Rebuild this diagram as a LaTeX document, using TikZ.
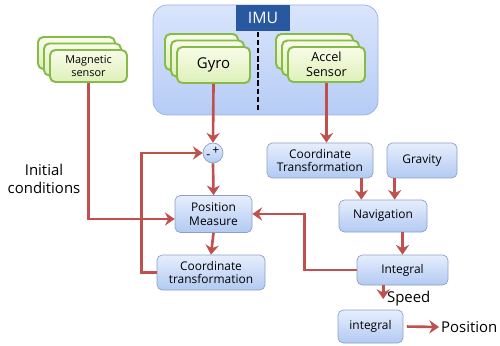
\documentclass[tikz,border=0pt]{standalone}
\usepackage{fontspec}
\setmainfont{Open Sans}
\usetikzlibrary{arrows.meta,positioning}
\definecolor{imured}{RGB}{192,80,77}
\definecolor{boxtop}{RGB}{230,238,253}
\definecolor{boxbot}{RGB}{178,202,242}
\definecolor{boxedge}{RGB}{140,160,200}
\definecolor{imutop}{RGB}{218,229,252}
\definecolor{imubot}{RGB}{182,204,245}
\definecolor{imuedge}{RGB}{150,178,228}
\definecolor{imudark}{RGB}{40,88,160}
\definecolor{senstop}{RGB}{248,252,232}
\definecolor{sensbot}{RGB}{222,240,185}
\definecolor{sensedge}{RGB}{135,185,75}
\tikzset{
  bluebox/.style={rectangle, rounded corners=3pt, draw=boxedge, top color=boxtop, bottom color=boxbot, align=center, inner sep=1pt, font=\fontsize{6.8}{7.8}\selectfont},
  sensor/.style={rectangle, rounded corners=3pt, draw=sensedge, line width=1.1pt, top color=senstop, bottom color=sensbot, align=center, inner sep=1pt},
  imubox/.style={rectangle, rounded corners=8pt, draw=imuedge, top color=imutop, bottom color=imubot},
  imulabel/.style={rectangle, fill=imudark, text=white, minimum width=1.08cm, minimum height=0.52cm, font=\fontsize{9}{10}\selectfont},
  sumnode/.style={circle, draw=boxedge, top color=boxtop, bottom color=boxbot, minimum size=0.4cm, inner sep=0pt, font=\fontsize{7}{8}\selectfont},
  arrow/.style={-{Stealth[length=5.5pt,width=7.5pt]}, line width=1.5pt, draw=imured},
  line/.style={line width=1.5pt, draw=imured},
  divider/.style={line width=1pt, dash pattern=on 3pt off 1.6pt},
  freetext/.style={align=center, inner sep=1pt, font=\fontsize{8.5}{10}\selectfont}
}
\begin{document}
\begin{tikzpicture}
\useasboundingbox (0,0) rectangle (10,6.9);
% IMU block
\node[imubox, minimum width=4.5cm, minimum height=2.2cm] (imu) at (5.31,5.7) {};
\node[imulabel] (imutag) at (5.26,6.54) {IMU};
\draw[divider] (5.16,6.26) -- (5.16,4.66);
% sensors, drawn as stacks
\foreach \k in {2,1} {
  \node[sensor, minimum width=1.46cm, minimum height=0.72cm] (gyro\k) at ({4.27-0.12*\k},{5.6+0.13*\k}) {};
  \node[sensor, minimum width=1.54cm, minimum height=0.7cm] (accel\k) at ({6.53-0.12*\k},{5.61+0.13*\k}) {};
  \node[sensor, minimum width=1.54cm, minimum height=0.64cm] (mag\k) at ({1.77-0.12*\k},{5.58+0.13*\k}) {};
}
\node[sensor, minimum width=1.46cm, minimum height=0.72cm, font=\fontsize{8.5}{10}\selectfont] (gyro) at (4.27,5.6) {Gyro};
\node[sensor, minimum width=1.54cm, minimum height=0.7cm, font=\fontsize{7.2}{8.4}\selectfont] (accel) at (6.53,5.61) {Accel\\Sensor};
\node[sensor, minimum width=1.54cm, minimum height=0.64cm, font=\fontsize{6.2}{7.2}\selectfont] (mag) at (1.77,5.58) {Magnetic\\sensor};
% processing blocks
\node[sumnode] (sum) at (4.26,3.84) {\raisebox{-1pt}{-}\,\raisebox{1.5pt}{+}};
\node[bluebox, minimum width=1.54cm, minimum height=0.74cm] (posm) at (4.27,2.62) {Position\\Measure};
\node[bluebox, minimum width=2.16cm, minimum height=0.7cm] (ctlow) at (4.22,1.45) {Coordinate\\transformation};
\node[bluebox, minimum width=2.12cm, minimum height=0.7cm] (cthigh) at (6.4,3.69) {Coordinate\\Transformation};
\node[bluebox, minimum width=1.4cm, minimum height=0.7cm] (grav) at (8.44,3.69) {Gravity};
\node[bluebox, minimum width=1.76cm, minimum height=0.64cm] (nav) at (7.66,2.58) {Navigation};
\node[bluebox, minimum width=1.82cm, minimum height=0.6cm] (integ) at (8.05,1.5) {Integral};
\node[bluebox, minimum width=1.3cm, minimum height=0.66cm] (integ2) at (7.41,0.37) {integral};
% free labels
\node[freetext] (init) at (0.88,3.32) {Initial\\conditions};
\node[freetext, anchor=west] (speed) at (7.7,0.92) {Speed};
\node[freetext, anchor=west] (pos) at (8.78,0.36) {Position};
% connectors
\draw[arrow] (gyro.south) -- (sum.north);
\draw[arrow] (accel.south) -- (accel.south |- cthigh.north);
\draw[arrow] (mag.south) |- ([yshift=-0.1cm]posm.west);
\draw[arrow] (ctlow.west) -- ++(-0.3,0) |- (sum.west);
\draw[arrow] (sum.south) -- (posm.north);
\draw[arrow] (posm.south) -- (ctlow.north);
\draw[arrow] ([xshift=-0.24cm]cthigh.south east) -- ([xshift=-0.24cm]cthigh.south east |- nav.north);
\draw[arrow] ([xshift=0.16cm]grav.south west) -- ([xshift=0.16cm]grav.south west |- nav.north);
\draw[arrow] (nav.south -| integ.north) -- (integ.north);
\draw[arrow] (integ.west) -- ++(-1.04,0) |- (posm.east);
\draw[arrow] ([xshift=-1pt]speed.west |- integ.south) -- ([xshift=-1pt]speed.west);
\draw[arrow, shorten <=2pt] (integ2.east) -- (pos.west);
\end{tikzpicture}
\end{document}
